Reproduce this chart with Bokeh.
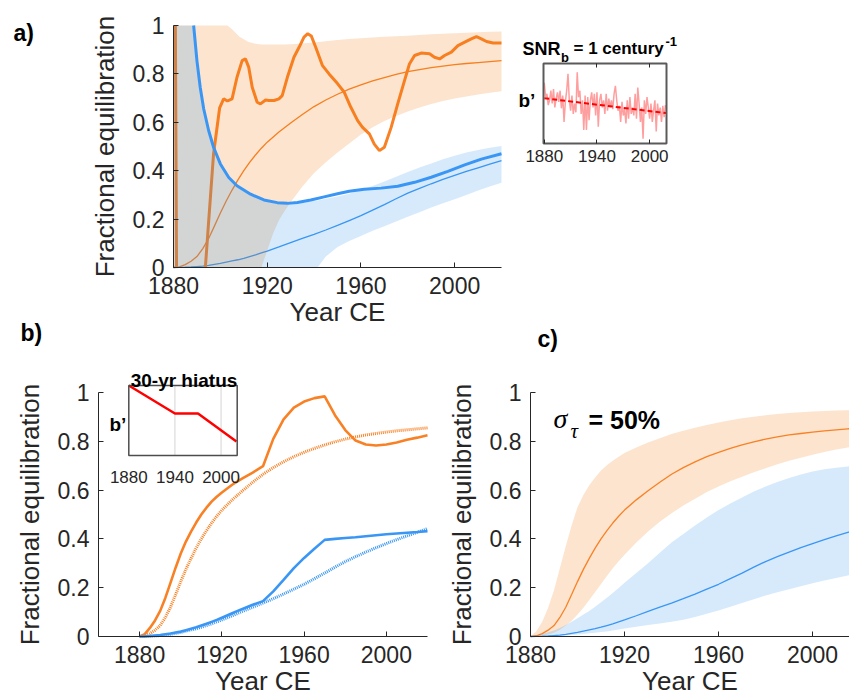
import numpy as np
from bokeh.plotting import figure
from bokeh.models import Range1d, FixedTicker, CustomJSTickFormatter, LinearAxis, Label, Grid
from bokeh.embed import file_html
from bokeh.resources import INLINE

FONT = "Liberation Sans"
SERIF = "Liberation Serif"
ORANGE = "#F98125"
BLUE = "#3A96F5"
ORANGE_FILL = "#F0780A"
BLUE_FILL = "#3296F0"
AXIS = "#262626"
NAN = float("nan")

# ---------------------------------------------------------------- data
x_ticks = [1880, 1920, 1960, 2000]
y_ticks = [0, 0.2, 0.4, 0.6, 0.8, 1.0]
inset_ticks = [1880, 1940, 2000]

# ensemble curves (2.5-year steps to 1920, 5-year steps after)
years = [1880, 1882.5, 1885, 1887.5, 1890, 1892.5, 1895, 1897.5, 1900, 1902.5, 1905, 1907.5,
         1910, 1912.5, 1915, 1917.5, 1920,
         1925, 1930, 1935, 1940, 1945, 1950, 1955, 1960, 1965, 1970, 1975, 1980, 1985, 1990,
         1995, 2000, 2005, 2010, 2015, 2020]
fast_mean = [0.000, 0.003, 0.012, 0.026, 0.045, 0.078, 0.120, 0.172, 0.225, 0.275, 0.320, 0.362,
             0.400, 0.434, 0.465, 0.493, 0.518,
             0.560, 0.597, 0.632, 0.665, 0.692, 0.716, 0.737, 0.755, 0.771, 0.785, 0.798, 0.809,
             0.818, 0.826, 0.832, 0.838, 0.843, 0.847, 0.851, 0.855]
fast_hi = [0.000, 0.022, 0.060, 0.118, 0.190, 0.280, 0.370, 0.455, 0.530, 0.580, 0.620, 0.652,
           0.680, 0.702, 0.720, 0.737, 0.752,
           0.775, 0.795, 0.813, 0.830, 0.843, 0.856, 0.867, 0.877, 0.886, 0.894, 0.901, 0.907,
           0.912, 0.916, 0.919, 0.922, 0.924, 0.926, 0.927, 0.928]
fast_lo = [0.000, 0.001, 0.003, 0.008, 0.015, 0.028, 0.045, 0.065, 0.090, 0.118, 0.150, 0.182,
           0.215, 0.248, 0.280, 0.308, 0.335,
           0.385, 0.430, 0.470, 0.505, 0.537, 0.565, 0.592, 0.615, 0.636, 0.655, 0.673, 0.690,
           0.706, 0.720, 0.733, 0.745, 0.756, 0.766, 0.775, 0.783]
slow_mean = [0.000, 0.0003, 0.001, 0.002, 0.004, 0.006, 0.009, 0.013, 0.017, 0.022, 0.027, 0.032,
             0.038, 0.045, 0.052, 0.060, 0.068,
             0.085, 0.103, 0.120, 0.137, 0.155, 0.174, 0.194, 0.214, 0.237, 0.260, 0.284, 0.307,
             0.327, 0.346, 0.364, 0.381, 0.397, 0.412, 0.427, 0.442]
slow_hi = [0.000, 0.004, 0.010, 0.017, 0.025, 0.035, 0.047, 0.060, 0.075, 0.090, 0.105, 0.122,
           0.140, 0.159, 0.178, 0.199, 0.220,
           0.260, 0.300, 0.343, 0.385, 0.420, 0.455, 0.488, 0.518, 0.545, 0.570, 0.594, 0.615,
           0.633, 0.650, 0.664, 0.676, 0.685, 0.692, 0.697, 0.701]
slow_lo = [0.000, 0.0005, 0.001, 0.0015, 0.002, 0.003, 0.004, 0.006, 0.008, 0.010, 0.013, 0.015,
           0.018, 0.021, 0.025, 0.029, 0.033,
           0.040, 0.047, 0.053, 0.060, 0.069, 0.080, 0.093, 0.107, 0.122, 0.137, 0.153, 0.168,
           0.181, 0.194, 0.206, 0.218, 0.229, 0.240, 0.250, 0.260]

# panel a: fits to the noisy forcing (the fast fit leaves the 0-1 window right after 1880)
fit_fast_years = [1880.8, 1881.3, NAN, 1893.6, 1895.0, 1897.1, 1899.7, 1901.4, 1903.0,
                  1905.0, 1907.1, 1909.3, 1910.7, 1912.1, 1913.6, 1915.7, 1917.1, 1919.3, 1920.7,
                  1922.9, 1925.0, 1926.4, 1928.6, 1931.4, 1933.6, 1935.7, 1937.3, 1938.8, 1940.7,
                  1943.6, 1946.4, 1950.0, 1952.9, 1955.7, 1958.6, 1960.7, 1963.6, 1965.7, 1967.9,
                  1970.0, 1972.9, 1975.7, 1978.6, 1980.7, 1982.9, 1985.7, 1989.3, 1991.4, 1993.6,
                  1995.7, 1998.6, 2001.4, 2004.3, 2007.1, 2009.3, 2011.4, 2013.6, 2016.4, 2020.0]
fit_fast = [1.000, 0.000, NAN, 0.000, 0.190, 0.470, 0.660, 0.697, 0.688,
            0.697, 0.786, 0.855, 0.862, 0.828, 0.745, 0.683, 0.676, 0.692, 0.690,
            0.690, 0.697, 0.710, 0.786, 0.869, 0.910, 0.952, 0.966, 0.957, 0.910,
            0.834, 0.800, 0.760, 0.724, 0.662, 0.607, 0.579, 0.552, 0.510, 0.483,
            0.497, 0.579, 0.676, 0.772, 0.841, 0.876, 0.886, 0.883, 0.869, 0.862,
            0.876, 0.890, 0.917, 0.931, 0.945, 0.954, 0.945, 0.934, 0.928, 0.928]
fit_slow_years = [1888.6, 1890.0, 1891.4, 1892.9, 1895.0, 1897.1, 1900.0, 1903.6, 1907.1,
                  1912.9, 1918.6, 1924.3, 1928.6, 1932.9, 1938.6, 1944.3, 1950.0, 1955.0, 1961.4,
                  1968.6, 1975.7, 1982.9, 1990.0, 1997.1, 2004.3, 2011.4, 2020.0]
fit_slow = [1.000, 0.855, 0.745, 0.655, 0.566, 0.497, 0.428, 0.372, 0.338,
            0.303, 0.279, 0.268, 0.265, 0.269, 0.279, 0.292, 0.305, 0.315, 0.323,
            0.328, 0.336, 0.352, 0.373, 0.397, 0.424, 0.448, 0.470]

# panel a: fit uncertainty bands
fast_band_years = [1880, 1885, 1890, 1895, 1900, 1903, 1905, 1908, 1912, 1915, 1917.5, 1920, 1922.5,
                   1925, 1927.5, 1930, 1935, 1940, 1945, 1950, 1955, 1960, 1965, 1970, 1975, 1980,
                   1985, 1990, 1995, 2000, 2005, 2010, 2015, 2020]
fast_band_hi = [1.0, 1.0, 1.0, 1.0, 1.0, 1.0, 0.985, 0.955, 0.932, 0.925, 0.922, 0.921, 0.921,
                0.921, 0.922, 0.923, 0.926, 0.930, 0.935, 0.940, 0.944, 0.947, 0.950, 0.953, 0.956,
                0.958, 0.961, 0.964, 0.966, 0.968, 0.970, 0.972, 0.974, 0.975]
fast_band_lo = [0.0, 0.0, 0.0, 0.0, 0.0, 0.0, 0.0, 0.0, 0.0, 0.0, 0.0, 0.070, 0.140,
                0.195, 0.235, 0.270, 0.335, 0.390, 0.435, 0.475, 0.512, 0.550, 0.580, 0.605, 0.626,
                0.645, 0.661, 0.676, 0.688, 0.698, 0.707, 0.715, 0.722, 0.728]
slow_band_years = [1880, 1885, 1888.5, 1890, 1892, 1895, 1900, 1905, 1910, 1915, 1920, 1925, 1930,
                   1935, 1940, 1941.5, 1945, 1950, 1955, 1960, 1965, 1970, 1975, 1980, 1985, 1990,
                   1995, 2000, 2005, 2010, 2015, 2020]
slow_band_hi = [1.0, 1.0, 1.0, 0.850, 0.690, 0.560, 0.420, 0.352, 0.317, 0.290, 0.274, 0.265, 0.262,
                0.267, 0.275, 0.277, 0.284, 0.293, 0.305, 0.320, 0.337, 0.355, 0.375, 0.395, 0.413,
                0.430, 0.447, 0.462, 0.475, 0.486, 0.495, 0.502]
slow_band_lo = [0.0, 0.0, 0.0, 0.0, 0.0, 0.0, 0.0, 0.0, 0.0, 0.0, 0.0, 0.0, 0.0,
                0.0, 0.0, 0.0, 0.045, 0.085, 0.110, 0.130, 0.152, 0.170, 0.190, 0.210, 0.228,
                0.248, 0.265, 0.282, 0.300, 0.318, 0.335, 0.350]

# panel a inset: b' series and its linear trend
b_noise = [0.76, 0.58, 0.62, 0.48, 0.54, 0.66, 0.50, 0.68, 0.45, 0.56,
           0.64, 0.52, 0.66, 0.44, 0.60, 0.27, 0.52, 0.66, 0.87, 0.54,
           0.41, 0.60, 0.37, 0.50, 0.39, 0.89, 0.58, 0.66, 0.37, 0.54,
           0.17, 0.60, 0.17, 0.58, 0.29, 0.54, 0.64, 0.45, 0.62, 0.35,
           0.64, 0.21, 0.54, 0.62, 0.45, 0.54, 0.37, 0.62, 0.41, 0.56,
           0.45, 0.54, 0.43, 0.62, 0.72, 0.54, 0.41, 0.47, 0.27, 0.52,
           0.35, 0.43, 0.25, 0.54, 0.31, 0.58, 0.37, 0.45, 0.35, 0.62,
           0.31, 0.70, 0.50, 0.27, 0.45, 0.06, 0.54, 0.37, 0.58, 0.45,
           0.31, 0.50, 0.27, 0.41, 0.54, 0.15, 0.50, 0.35, 0.45, 0.27,
           0.47, 0.33, 0.48]
b_noise_years = 1880 + 1.5 * np.arange(len(b_noise))
b_trend_years = [1880, 2019]
b_trend = [0.566, 0.380]

# panel b: response with a 30-year hiatus in b' (same year grid as the ensemble curves)
hiatus_fast = [0.000, 0.010, 0.035, 0.066, 0.105, 0.158, 0.220, 0.282, 0.340, 0.389, 0.430, 0.467,
               0.500, 0.528, 0.553, 0.573, 0.590,
               0.622, 0.648, 0.672, 0.698, 0.810, 0.890, 0.938, 0.963, 0.977, 0.984, 0.907, 0.846,
               0.803, 0.787, 0.783, 0.787, 0.795, 0.806, 0.815, 0.825]
hiatus_slow = [0.000, 0.0005, 0.002, 0.004, 0.006, 0.009, 0.012, 0.016, 0.020, 0.026, 0.032, 0.038,
               0.045, 0.052, 0.060, 0.068, 0.077,
               0.095, 0.113, 0.130, 0.145, 0.185, 0.232, 0.280, 0.322, 0.360, 0.396, 0.400, 0.404,
               0.407, 0.411, 0.415, 0.419, 0.422, 0.425, 0.428, 0.432]
hiatus_years = [1880, 1940, 1970, 2020]
hiatus_b = [1.0, 0.6, 0.6, 0.2]

# ---------------------------------------------------------------- page and panel geometry
W, H = 849, 698
# name: (data x limits, data y limits, page x of those limits, page y of (y0, y1))
PANELS = {
    "a":  ((1880, 2020),     (0, 1), (173, 501),     (267, 25)),
    "ia": ((1879.1, 2019.2), (0, 1), (543, 666),     (143, 63)),
    "b":  ((1860, 2020),     (0, 1), (98, 427),      (636, 392)),
    "ib": ((1880, 2021),     (0, 1), (128.3, 236.7), (455, 385)),
    "c":  ((1880, 2015.7),   (0, 1), (530, 849),     (636, 392)),
}

p = figure(width=W, height=H, x_range=Range1d(0, W), y_range=Range1d(H, 0),
           output_backend="svg", toolbar_location=None, min_border=0,
           x_axis_location=None, y_axis_location=None)
p.outline_line_color = None
p.background_fill_color = "white"
p.border_fill_color = "white"
for g in p.select(type=Grid):
    g.visible = False

xr, yr = {}, {}
for name, ((x0, x1), (y0, y1), (px0, px1), (py0, py1)) in PANELS.items():
    kx = (x1 - x0) / (px1 - px0)
    ky = (y1 - y0) / (py0 - py1)
    xs = x0 - px0 * kx
    ys = y0 - (H - py0) * ky
    xr[name] = Range1d(xs, xs + W * kx)
    yr[name] = Range1d(ys, ys + H * ky)
p.extra_x_ranges = xr
p.extra_y_ranges = yr


def on(name):
    return dict(x_range_name=name, y_range_name=name)


def main_axes(name, xbounds):
    xa = LinearAxis(fixed_location=0, bounds=xbounds, ticker=FixedTicker(ticks=x_ticks),
                    axis_label="Year CE", **on(name))
    ya = LinearAxis(fixed_location=xbounds[0], bounds=(0, 1), ticker=FixedTicker(ticks=y_ticks),
                    formatter=CustomJSTickFormatter(code="return String(Math.round(tick * 10) / 10);"),
                    axis_label="Fractional equilibration", **on(name))
    for ax in (xa, ya):
        ax.axis_line_color = AXIS
        ax.axis_line_width = 1
        ax.major_tick_in = 5
        ax.major_tick_out = 0
        ax.major_tick_line_color = AXIS
        ax.minor_tick_line_color = None
        ax.major_label_text_font = FONT
        ax.major_label_text_font_size = "23px"
        ax.major_label_text_color = AXIS
        ax.axis_label_text_font = FONT
        ax.axis_label_text_font_size = "26px"
        ax.axis_label_text_font_style = "normal"
        ax.axis_label_text_color = AXIS
    xa.major_label_standoff = 9
    xa.axis_label_standoff = 0
    ya.major_label_standoff = 9
    ya.axis_label_standoff = 10
    p.add_layout(xa, "below")
    p.add_layout(ya, "left")


def label(px, py, text, size, style="bold", font=FONT, align="left"):
    p.add_layout(Label(x=px, y=py, text=text, text_font=font, text_font_size=size,
                       text_font_style=style, text_align=align, text_baseline="alphabetic",
                       text_color="black"))


# ---------------------------------------------------------------- panel a
p.line(years, fast_mean, line_color=ORANGE, line_width=1.3, **on("a"))
p.line(years, slow_mean, line_color=BLUE, line_width=1.3, **on("a"))
p.line(fit_fast_years, fit_fast, line_color=ORANGE, line_width=3, **on("a"))
p.varea(x=fast_band_years, y1=fast_band_lo, y2=fast_band_hi, fill_color=ORANGE_FILL,
        fill_alpha=0.2, **on("a"))
p.varea(x=slow_band_years, y1=slow_band_lo, y2=slow_band_hi, fill_color=BLUE_FILL,
        fill_alpha=0.2, **on("a"))
p.line(fit_slow_years, fit_slow, line_color=BLUE, line_width=3, **on("a"))
main_axes("a", (1880, 2020))

# ---------------------------------------------------------------- inset of panel a
p.line(b_noise_years, b_noise, line_color="#FF0000", line_alpha=0.38, line_width=1.5, **on("ia"))
p.line(b_trend_years, b_trend, line_color="#FF0000", line_width=2, line_dash="5 3", **on("ia"))
p.quad(left=[1879.1], right=[2019.2], bottom=[0], top=[1], fill_color=None,
       line_color="#5a5a5a", line_width=2, **on("ia"))
ia_bottom = LinearAxis(fixed_location=0, bounds=(1879.1, 2019.2), ticker=FixedTicker(ticks=inset_ticks),
                       axis_line_color=None, major_tick_in=4, major_tick_out=0,
                       major_tick_line_color=AXIS, minor_tick_line_color=None,
                       major_label_text_font=FONT, major_label_text_font_size="17px",
                       major_label_text_color=AXIS, major_label_standoff=6, **on("ia"))
ia_top = LinearAxis(fixed_location=1, bounds=(1879.1, 2019.2), ticker=FixedTicker(ticks=inset_ticks[1:]),
                    axis_line_color=None, major_tick_in=4, major_tick_out=0,
                    major_tick_line_color=AXIS, minor_tick_line_color=None,
                    major_label_text_color=None, major_label_text_font_size="8px", **on("ia"))
p.add_layout(ia_bottom, "below")
p.add_layout(ia_top, "above")

# ---------------------------------------------------------------- panel b
p.line(years, fast_mean, line_color=ORANGE, line_width=3, line_dash="1 1", **on("b"))
p.line(years, slow_mean, line_color=BLUE, line_width=3, line_dash="1 1", **on("b"))
p.line(years, hiatus_fast, line_color=ORANGE, line_width=2.6, **on("b"))
p.line(years, hiatus_slow, line_color=BLUE, line_width=2.6, **on("b"))
main_axes("b", (1860, 2020))

# ---------------------------------------------------------------- inset of panel b
p.quad(left=[1880], right=[2021], bottom=[0], top=[1], fill_color="white",
       line_color=None, **on("ib"))
p.segment(x0=inset_ticks[1:], y0=[0, 0], x1=inset_ticks[1:], y1=[1, 1],
          line_color="#d4d4d4", line_width=1, **on("ib"))
p.line(hiatus_years, hiatus_b, line_color="#FF0000", line_width=2.5, **on("ib"))
p.quad(left=[1880], right=[2021], bottom=[0], top=[1], fill_color=None,
       line_color="#4d4d4d", line_width=1.5, **on("ib"))
ib_bottom = LinearAxis(fixed_location=0, bounds=(1880, 2021), ticker=FixedTicker(ticks=inset_ticks),
                       axis_line_color=None, major_tick_line_color=None, minor_tick_line_color=None,
                       major_label_text_font=FONT, major_label_text_font_size="17px",
                       major_label_text_color=AXIS, major_label_standoff=9, **on("ib"))
p.add_layout(ib_bottom, "below")

# ---------------------------------------------------------------- panel c
p.varea(x=years, y1=fast_lo, y2=fast_hi, fill_color=ORANGE_FILL, fill_alpha=0.2, **on("c"))
p.varea(x=years, y1=slow_lo, y2=slow_hi, fill_color=BLUE_FILL, fill_alpha=0.2, **on("c"))
p.line(years, fast_mean, line_color=ORANGE, line_width=1.3, **on("c"))
p.line(years, slow_mean, line_color=BLUE, line_width=1.3, **on("c"))
main_axes("c", (1880, 2020))

# ---------------------------------------------------------------- texts
label(13, 32, "a)", "23px")
label(20, 332, "b)", "23px")
label(537, 338.5, "c)", "23px")
label(522, 48, "SNR", "18px")
label(560.5, 56.5, "b", "13px")
label(573, 48, "= 1 century", "17px")
label(665, 40.5, "-1", "13px")
label(518, 100, "b\u2019", "19px")
label(183.5, 380, "30-yr hiatus", "19px", align="center")
label(109, 423.5, "b\u2019", "19px")
label(553, 418, "\u03c3", "28px", style="italic", font=SERIF)
label(570, 430.5, "\u03c4", "21px", style="italic", font=SERIF)
label(588, 419, "= 50%", "25px")

open("out.html", "w").write(file_html(p, INLINE))
